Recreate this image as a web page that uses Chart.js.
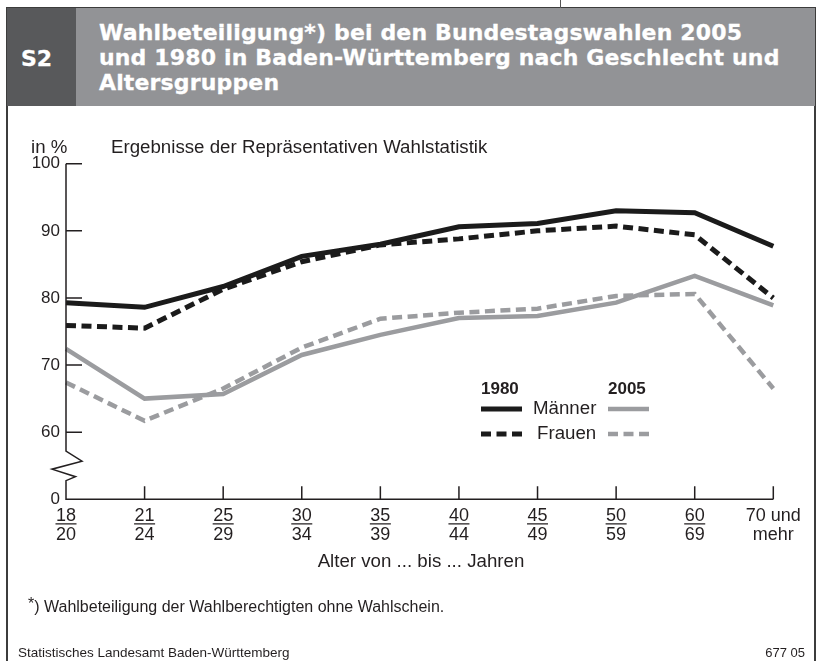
<!DOCTYPE html>
<html lang="de">
<head>
<meta charset="utf-8">
<title>S2 Wahlbeteiligung Baden-Württemberg</title>
<script src="https://cdn.jsdelivr.net/npm/chart.js@4.4.1/dist/chart.umd.min.js"></script>
<style>
  html, body { margin: 0; padding: 0; background: #fff; }
  body { width: 821px; height: 661px; position: relative; overflow: hidden;
         font-family: "Liberation Sans", Arial, sans-serif; color: #231f20; }
  #chart { position: absolute; left: 0; top: 0; }
  .frame { position: absolute; left: 6px; top: 7px; width: 810px; height: 660px;
           border: 2px solid #3c3c3c; border-bottom: none; box-sizing: border-box; }
  .crop { position: absolute; left: 560px; top: 0; width: 1px; height: 8px; background: #555; }
  .hd-num { position: absolute; left: 7px; top: 8px; width: 69px; height: 98px; background: #58595b; }
  .hd-bar { position: absolute; left: 76px; top: 8px; width: 739px; height: 98px; background: #929396; }
  .hd-num span, .hd-bar div { font-family: "DejaVu Sans", sans-serif; font-weight: bold;
           color: #fff; font-size: 22px; line-height: 25px; position: absolute; white-space: nowrap;
           -webkit-text-stroke: 0.3px #fff; }
  .hd-num span { left: 14px; top: 38px; }
  .hd-bar div { left: 23px; top: 12px; letter-spacing: 0.15px; }
  .txt { position: absolute; white-space: nowrap; font-size: 18.7px; line-height: 20px; }
  .foot { position: absolute; white-space: nowrap; }
</style>
</head>
<body>
<canvas id="chart" width="821" height="661"></canvas>
<div class="frame"></div>
<div class="crop"></div>
<div class="hd-num"><span>S2</span></div>
<div class="hd-bar"><div>Wahlbeteiligung*) bei den Bundestagswahlen 2005<br>und 1980 in Baden-Württemberg nach Geschlecht und<br>Altersgruppen</div></div>
<div class="txt" style="left:31px; top:137px;">in %</div>
<div class="txt" style="left:111px; top:137px;">Ergebnisse der Repräsentativen Wahlstatistik</div>
<div class="txt" style="left:0; width:842px; text-align:center; top:551px;">Alter von ... bis ... Jahren</div>
<div class="foot" style="left:28px; top:598px; font-size:16px;"><span style="position:relative; top:-3px;">*</span>) Wahlbeteiligung der Wahlberechtigten ohne Wahlschein.</div>
<div class="foot" style="left:18px; top:645px; font-size:13.5px;">Statistisches Landesamt Baden-Württemberg</div>
<div class="foot" style="right:16px; top:645px; font-size:13px;">677 05</div>

<script>
  "use strict";

  /* ---- data ---- */
  var ageGroups  = [["18", "20"], ["21", "24"], ["25", "29"], ["30", "34"], ["35", "39"],
                    ["40", "44"], ["45", "49"], ["50", "59"], ["60", "69"], ["70 und", "mehr"]];
  var men1980    = [79.3, 78.6, 81.7, 86.2, 88.0, 90.6, 91.1, 93.0, 92.7, 87.7];
  var women1980  = [75.9, 75.5, 81.3, 85.4, 87.9, 88.8, 90.0, 90.7, 89.4, 80.0];
  var men2005    = [72.4, 65.0, 65.7, 71.5, 74.5, 77.0, 77.3, 79.3, 83.3, 78.9];
  var women2005  = [67.4, 61.7, 66.5, 72.6, 76.9, 77.8, 78.4, 80.3, 80.6, 66.5];
  // y axis is broken below 60: the bottom tick stands for 0
  var yTicks      = [50, 60, 70, 80, 90, 100];
  var yTickLabels = ["0", "60", "70", "80", "90", "100"];

  var INK = "#231f20";
  var BLACK = "#1b1b1b";
  var GREY = "#9b9c9f";
  var FONT = "'Liberation Sans', Arial, sans-serif";

  Chart.defaults.color = INK;
  Chart.defaults.font.family = FONT;

  /* ---- axis decoration: broken y axis, inner ticks, fraction bars, legend ---- */
  var decor = {
    id: "decor",
    afterDraw: function (chart) {
      var ctx = chart.ctx, a = chart.chartArea;
      var xs = chart.scales.x, ys = chart.scales.y;
      var x0 = a.left, yb = a.bottom;
      ctx.save();
      ctx.strokeStyle = INK;
      ctx.lineWidth = 1.5;

      // y axis with zigzag break between 60 and 0
      var y60 = ys.getPixelForValue(60);
      ctx.beginPath();
      ctx.moveTo(x0, a.top);
      ctx.lineTo(x0, y60 + 19);
      ctx.lineTo(x0 + 16, y60 + 29);
      ctx.lineTo(x0 - 14, y60 + 37);
      ctx.lineTo(x0 + 9.5, y60 + 44.5);
      ctx.lineTo(x0, y60 + 48.5);
      ctx.lineTo(x0, yb);
      // x axis
      ctx.lineTo(a.right, yb);
      ctx.stroke();

      // inner ticks on y (60..100)
      ctx.beginPath();
      yTicks.forEach(function (v) {
        if (v === 50) return;
        var y = ys.getPixelForValue(v);
        ctx.moveTo(x0, y);
        ctx.lineTo(x0 + 16, y);
      });
      // inner ticks on x
      for (var i = 1; i < ageGroups.length; i++) {
        var x = xs.getPixelForTick(i);
        ctx.moveTo(x, yb);
        ctx.lineTo(x, yb - 13);
      }
      ctx.stroke();

      // fraction bars between "from" and "to"
      ctx.font = "18px " + FONT;
      ctx.lineWidth = 1.3;
      ctx.beginPath();
      for (var j = 0; j < ageGroups.length - 1; j++) {
        var cx = xs.getPixelForTick(j);
        var w = ctx.measureText(ageGroups[j][0]).width + 1;
        ctx.moveTo(cx - w / 2, yb + 24.5);
        ctx.lineTo(cx + w / 2, yb + 24.5);
      }
      ctx.stroke();

      // legend
      var ds = chart.data.datasets;
      function sample(d, x1, y) {
        ctx.save();
        ctx.strokeStyle = d.borderColor;
        ctx.lineWidth = d.borderWidth;
        ctx.setLineDash(d.borderDash || []);
        ctx.beginPath();
        ctx.moveTo(x1, y);
        ctx.lineTo(x1 + 41, y);
        ctx.stroke();
        ctx.restore();
      }
      ctx.fillStyle = INK;
      ctx.textBaseline = "middle";
      ctx.font = "bold 17px " + FONT;
      ctx.fillText("1980", 481, 389);
      ctx.fillText("2005", 608, 389);
      ctx.font = "18.7px " + FONT;
      ctx.fillText(ds[0].label, 533, 409);
      ctx.fillText(ds[2].label, 537, 434);
      sample(ds[0], 481, 409);
      sample(ds[1], 608, 409);
      sample(ds[2], 481, 434);
      sample(ds[3], 608, 434);
      ctx.restore();
    }
  };

  function line(label, data, color, width, dash) {
    return {
      label: label, data: data,
      borderColor: color, backgroundColor: color,
      borderWidth: width, borderDash: dash,
      borderCapStyle: "butt", borderJoinStyle: "miter",
      pointRadius: 0, tension: 0, fill: false
    };
  }

  new Chart(document.getElementById("chart"), {
    type: "line",
    data: {
      labels: ageGroups,
      // index 0 is drawn on top: solid lines above dashed ones
      datasets: [
        line("Männer", men1980, BLACK, 5, []),
        line("Männer", men2005, GREY, 4.5, []),
        line("Frauen", women1980, BLACK, 5, [10, 5.5]),
        line("Frauen", women2005, GREY, 4.5, [10, 5.5])
      ]
    },
    options: {
      responsive: false,
      animation: false,
      events: [],
      layout: { padding: { left: 0, right: 47.7, top: 163.7, bottom: 0 } },
      plugins: { legend: { display: false }, tooltip: { enabled: false } },
      scales: {
        x: {
          type: "category",
          offset: false,
          grid: { display: false, drawTicks: false },
          border: { display: false },
          afterFit: function (s) { s.height = 161.7; },
          ticks: { autoSkip: false, maxRotation: 0, padding: 7, color: INK,
                   font: { size: 18, lineHeight: 1.06 } }
        },
        y: {
          min: 50, max: 100,
          grid: { display: false, drawTicks: false },
          border: { display: false },
          afterFit: function (s) { s.width = 66; },
          afterBuildTicks: function (s) { s.ticks = yTicks.map(function (v) { return { value: v }; }); },
          ticks: {
            padding: 6, color: INK, font: { size: 17 },
            callback: function (v) { return yTickLabels[yTicks.indexOf(v)]; }
          }
        }
      }
    },
    plugins: [decor]
  });
</script>
</body>
</html>
